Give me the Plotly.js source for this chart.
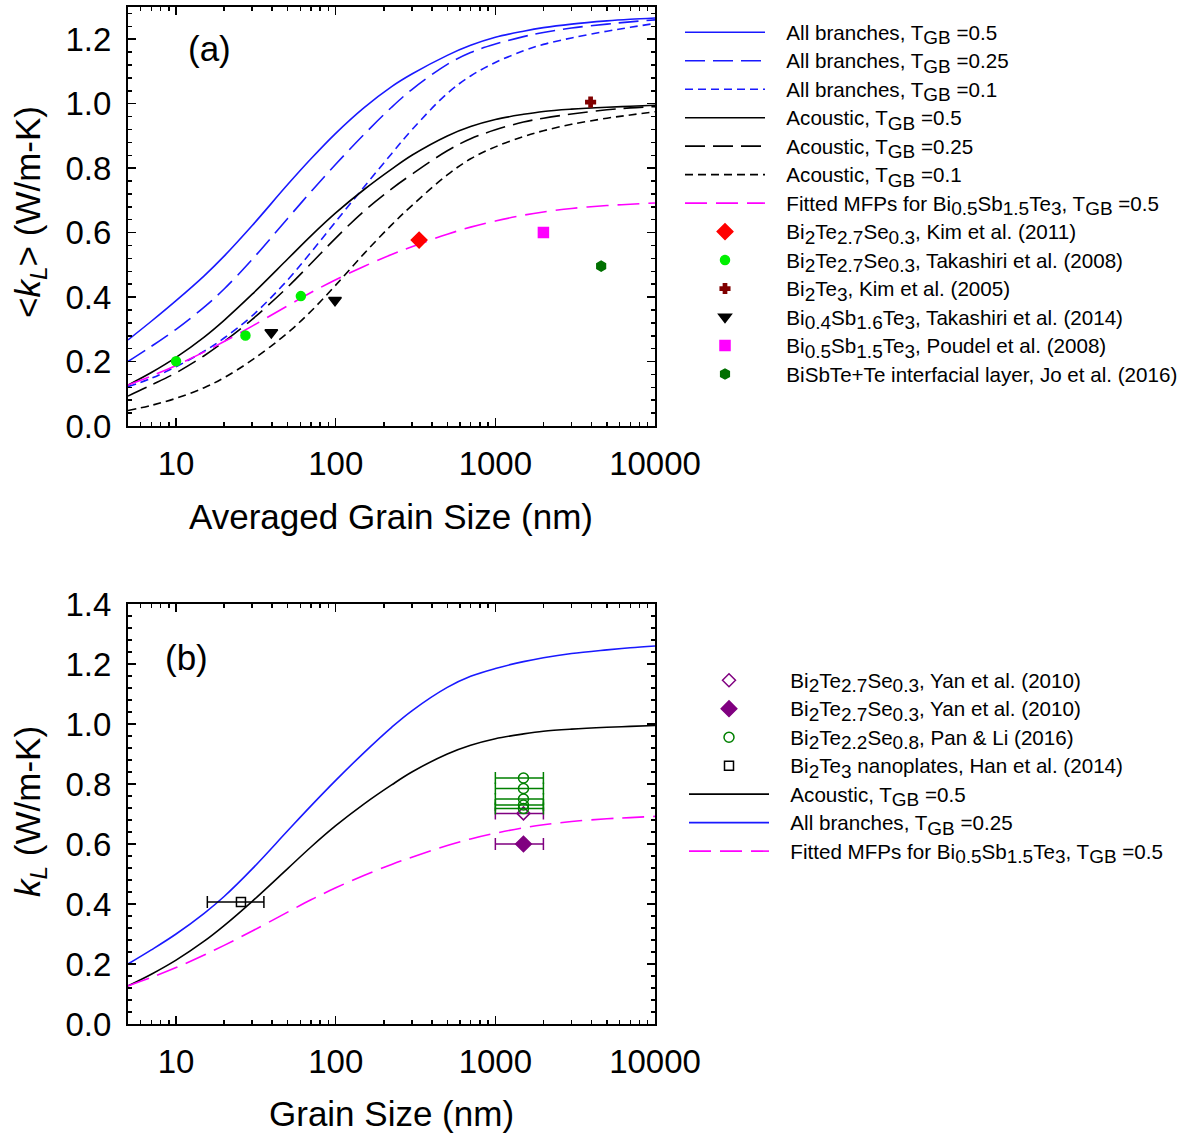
<!DOCTYPE html>
<html>
<head>
<meta charset="utf-8">
<script src="https://cdn.plot.ly/plotly-3.0.1.min.js"></script>
<style>html,body{margin:0;padding:0;background:#fff;}#chart{width:1187px;height:1135px;}</style>
</head>
<body>
<div id="chart"></div>
<script>
// ---- Data ----
const grainSize = [5,7,10,15,20,30,50,70,100,150,224,300,500,700,1000,1500,2000,3000,5000,7000,10000];
const allBranches05  = [0.267,0.325,0.389,0.466,0.527,0.622,0.749,0.829,0.908,0.987,1.053,1.092,1.150,1.181,1.206,1.225,1.236,1.247,1.257,1.262,1.266];
const allBranches025 = [0.200,0.247,0.300,0.369,0.425,0.517,0.644,0.727,0.812,0.904,0.989,1.044,1.122,1.159,1.185,1.208,1.221,1.235,1.247,1.254,1.260];
const allBranches01  = [0.122,0.148,0.184,0.232,0.273,0.342,0.453,0.539,0.634,0.741,0.845,0.919,1.032,1.086,1.128,1.164,1.184,1.204,1.225,1.237,1.249];
const acoustic05     = [0.127,0.166,0.213,0.276,0.328,0.409,0.518,0.590,0.661,0.733,0.797,0.840,0.900,0.929,0.951,0.967,0.976,0.983,0.989,0.992,0.995];
const acoustic025    = [0.093,0.127,0.165,0.218,0.262,0.331,0.431,0.504,0.583,0.666,0.736,0.781,0.854,0.891,0.919,0.943,0.955,0.968,0.981,0.987,0.991];
const acoustic01     = [0.048,0.064,0.086,0.119,0.150,0.205,0.289,0.356,0.437,0.534,0.624,0.684,0.779,0.829,0.866,0.898,0.916,0.936,0.955,0.965,0.975];
const fittedMFP      = [0.127,0.155,0.188,0.230,0.262,0.310,0.373,0.414,0.454,0.495,0.532,0.556,0.595,0.617,0.636,0.654,0.664,0.675,0.684,0.688,0.692];

// Panel (a) experimental points
const kim2011X = [333], kim2011Y = [0.577];
const takashiri2008X = [10, 27.2, 60.5], takashiri2008Y = [0.201, 0.281, 0.403];
const kim2005X = [3950], kim2005Y = [1.005];
const takashiri2014X = [39.5, 99], takashiri2014Y = [0.290, 0.390];
const poudel2008X = [2000], poudel2008Y = [0.600];
const jo2016X = [4600], jo2016Y = [0.496];

// Panel (b) experimental points
const yanOpenX = [1500], yanOpenY = [0.702], yanOpenErr = [500];
const yanFilledX = [1500], yanFilledY = [0.600], yanFilledErr = [500];
const panLiX = [1500,1500,1500,1500,1500], panLiY = [0.820,0.785,0.750,0.730,0.718], panLiErr = [500,500,500,500,500];
const hanX = [25.5], hanY = [0.407], hanErrPlus = [10], hanErrMinus = [9.8];

// Tick labels
const xTickVals = [10,100,1000,10000];
const xTickText = ['10','100','1000','10000'];

// ---- Styles ----
const FONT = 'Liberation Sans, Arial, sans-serif';
const BLUE = 'rgb(25,25,255)';
const MAG = 'rgb(255,0,255)';
const LONG = '20px,8px';
const SHORT = '8px,5px';
const MAGDASH = '22px,9px';
const PAD = '&nbsp;&nbsp;&nbsp;';
const sb = s => '<sub><span style="font-size:19px">' + s + '</span></sub>';
const TGB = 'T' + sb('GB');
const big = s => PAD + '<span style="font-size:20.6px">' + s + '</span>';

const minorX = [];
for (let d = 0; d < 4; d++) for (let k = 2; k <= 9; k++) { const v = k * Math.pow(10, d); if (v >= 5 && v < 10000) minorX.push(v); }

function lineTrace(y, name, color, dash, xa, ya, legend, rank) {
  return {x: grainSize, y: y, name: big(name), type: 'scatter', mode: 'lines',
    line: {color: color, width: 1.6, dash: dash, shape: 'spline', smoothing: 1},
    xaxis: xa, yaxis: ya, legend: legend, legendrank: rank, hoverinfo: 'skip'};
}
function markTrace(x, y, name, symbol, color, size, legend, rank, extra) {
  const t = {x: x, y: y, name: big(name), type: 'scatter', mode: 'markers',
    marker: {symbol: symbol, color: color, size: size, line: {color: color, width: 1.5}},
    xaxis: legend === 'legend' ? 'x' : 'x2', yaxis: legend === 'legend' ? 'y' : 'y2',
    legend: legend, legendrank: rank};
  return Object.assign(t, extra || {});
}
function errX(plus, minus, color) {
  return {type: 'data', symmetric: false, array: plus, arrayminus: minus, color: color, thickness: 1.5, width: 6};
}

const BST = 'Bi' + sb('0.5') + 'Sb' + sb('1.5') + 'Te' + sb('3');
const BTS27 = 'Bi' + sb('2') + 'Te' + sb('2.7') + 'Se' + sb('0.3');
const traces = [
  lineTrace(allBranches05,  'All branches, ' + TGB + ' =0.5',  BLUE, 'solid', 'x', 'y', 'legend', 1),
  lineTrace(allBranches025, 'All branches, ' + TGB + ' =0.25', BLUE, LONG,   'x', 'y', 'legend', 2),
  lineTrace(allBranches01,  'All branches, ' + TGB + ' =0.1',  BLUE, SHORT,  'x', 'y', 'legend', 3),
  lineTrace(acoustic05,     'Acoustic, ' + TGB + ' =0.5',  'black', 'solid', 'x', 'y', 'legend', 4),
  lineTrace(acoustic025,    'Acoustic, ' + TGB + ' =0.25', 'black', LONG,    'x', 'y', 'legend', 5),
  lineTrace(acoustic01,     'Acoustic, ' + TGB + ' =0.1',  'black', SHORT,   'x', 'y', 'legend', 6),
  lineTrace(fittedMFP,      'Fitted MFPs for ' + BST + ', ' + TGB + ' =0.5', MAG, MAGDASH, 'x', 'y', 'legend', 7),
  markTrace(kim2011X, kim2011Y, BTS27 + ', Kim et al. (2011)', 'diamond', 'rgb(255,0,0)', 12, 'legend', 8),
  markTrace(takashiri2008X, takashiri2008Y, BTS27 + ', Takashiri et al. (2008)', 'circle', 'rgb(0,240,0)', 9, 'legend', 9),
  markTrace(kim2005X, kim2005Y, 'Bi' + sb('2') + 'Te' + sb('3') + ', Kim et al. (2005)', 'cross', 'rgb(128,0,0)', 8, 'legend', 10),
  markTrace(takashiri2014X, takashiri2014Y, 'Bi' + sb('0.4') + 'Sb' + sb('1.6') + 'Te' + sb('3') + ', Takashiri et al. (2014)', 'triangle-down', 'black', 11, 'legend', 11),
  markTrace(poudel2008X, poudel2008Y, BST + ', Poudel et al. (2008)', 'square', 'rgb(255,0,255)', 10, 'legend', 12),
  markTrace(jo2016X, jo2016Y, 'BiSbTe+Te interfacial layer, Jo et al. (2016)', 'hexagon', 'rgb(0,112,0)', 10, 'legend', 13),

  // panel (b)
  lineTrace(acoustic05,  'Acoustic, ' + TGB + ' =0.5', 'black', 'solid', 'x2', 'y2', 'legend2', 5),
  lineTrace(allBranches025, 'All branches, ' + TGB + ' =0.25', BLUE, 'solid', 'x2', 'y2', 'legend2', 6),
  lineTrace(fittedMFP, 'Fitted MFPs for ' + BST + ', ' + TGB + ' =0.5', MAG, MAGDASH, 'x2', 'y2', 'legend2', 7),
  markTrace(yanOpenX, yanOpenY, BTS27 + ', Yan et al. (2010)', 'diamond-open', 'rgb(128,0,128)', 10, 'legend2', 1,
    {error_x: errX(yanOpenErr, yanOpenErr, 'rgb(128,0,128)')}),
  markTrace(yanFilledX, yanFilledY, BTS27 + ', Yan et al. (2010)', 'diamond', 'rgb(128,0,128)', 12, 'legend2', 2,
    {error_x: errX(yanFilledErr, yanFilledErr, 'rgb(128,0,128)')}),
  markTrace(panLiX, panLiY, 'Bi' + sb('2') + 'Te' + sb('2.2') + 'Se' + sb('0.8') + ', Pan &amp; Li (2016)', 'circle-open', 'rgb(0,128,0)', 10, 'legend2', 3,
    {error_x: errX(panLiErr, panLiErr, 'rgb(0,128,0)')}),
  markTrace(hanX, hanY, 'Bi' + sb('2') + 'Te' + sb('3') + ' nanoplates, Han et al. (2014)', 'square-open', 'black', 9, 'legend2', 4,
    {error_x: errX(hanErrPlus, hanErrMinus, 'black')})
];

const W = 1187, H = 1135;
const px = v => v / W;
const py = v => (H - v) / H;

function xAxis(anchor) {
  return {type: 'log', domain: [px(128), px(655)], range: [Math.log10(5), 4], anchor: anchor,
    tickmode: 'array', tickvals: xTickVals, ticktext: xTickText,
    ticks: 'inside', ticklen: 8, tickwidth: 1.5, tickcolor: 'black',
    minor: {tickmode: 'array', tickvals: minorX, ticks: 'inside', ticklen: 4, tickwidth: 1.5, tickcolor: 'black', showgrid: false},
    showline: true, linecolor: 'black', linewidth: 2, mirror: 'ticks', showgrid: false, zeroline: false,
    tickfont: {family: FONT, size: 33, color: 'black'}, ticklabelstandoff: 7, automargin: false};
}
function yAxis(domain, range, anchor) {
  return {domain: domain, range: range, anchor: anchor, dtick: 0.2, tick0: 0, tickformat: '.1f',
    ticks: 'inside', ticklen: 8, tickwidth: 1.5, tickcolor: 'black',
    minor: {dtick: 0.04, ticks: 'inside', ticklen: 4, tickwidth: 1.5, tickcolor: 'black', showgrid: false},
    showline: true, linecolor: 'black', linewidth: 2, mirror: 'ticks', showgrid: false, zeroline: false,
    tickfont: {family: FONT, size: 33, color: 'black'}, ticklabelstandoff: 8, automargin: false};
}
function ann(text, x, y, size, angle) {
  return {text: text, x: px(x), y: py(y), xref: 'paper', yref: 'paper', xanchor: 'center', yanchor: 'middle',
    showarrow: false, textangle: angle || 0, font: {family: FONT, size: size, color: 'black'}};
}

const layout = {
  width: W, height: H, margin: {l: 0, r: 0, t: 0, b: 0},
  paper_bgcolor: 'white', plot_bgcolor: 'white', showlegend: true,
  font: {family: FONT, color: 'black'},
  xaxis: xAxis('y'),
  yaxis: yAxis([py(426), py(7)], [0, 1.3], 'x'),
  xaxis2: xAxis('y2'),
  yaxis2: yAxis([py(1024), py(604)], [0, 1.4], 'x2'),
  legend: {x: px(680), y: py(13), xanchor: 'left', yanchor: 'top', bgcolor: 'rgba(0,0,0,0)',
    font: {family: FONT, size: 19.6, color: 'black'}, itemwidth: 80, tracegroupgap: 0, traceorder: 'normal'},
  legend2: {x: px(684), y: py(661), xanchor: 'left', yanchor: 'top', bgcolor: 'rgba(0,0,0,0)',
    font: {family: FONT, size: 19.6, color: 'black'}, itemwidth: 80, tracegroupgap: 0, traceorder: 'normal'},
  annotations: [
    ann('(a)', 209, 48, 35),
    ann('(b)', 186, 657, 35),
    ann('Averaged Grain Size (nm)', 391, 516, 35),
    ann('Grain Size (nm)', 391, 1113, 35),
    ann('&lt;<i>k</i><sub><i>L</i></sub>&gt; (W/m-K)', 30, 212, 35, -90),
    ann('<i>k</i><sub><i>L</i></sub> (W/m-K)', 30, 812, 35, -90)
  ]
};

Plotly.newPlot('chart', traces, layout, {staticPlot: true, displayModeBar: false});
</script>
</body>
</html>
